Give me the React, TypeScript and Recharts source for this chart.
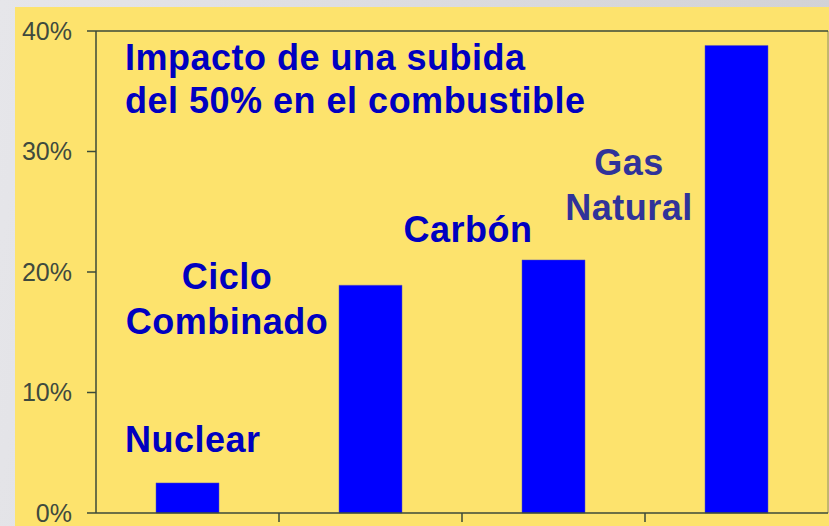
import { BarChart, Bar, XAxis, YAxis, ReferenceLine, CartesianGrid } from 'recharts';

const categories = ['Nuclear', 'Ciclo Combinado', 'Carbón', 'Gas Natural'];
const impactValues = [2.5, 18.9, 21.0, 38.8];
const yTicks = [0, 10, 20, 30, 40];

const data = categories.map((name, i) => ({ name, impact: impactValues[i] }));

const AXIS = '#3b4a38';
const BLUE_TEXT = '#0000c0';

// tick marks sit on the boundaries between categories, not under the bars
const BoundaryTick = (props: any) => {
  const { x, y, payload, index } = props;
  if (index >= categories.length - 1) return <g />;
  const bx = x + (payload?.offset ?? 0);
  return <line x1={bx} x2={bx} y1={y} y2={y + 9} stroke={AXIS} strokeWidth={1.5} />;
};

export default function App() {
  return (
    <div
      style={{
        position: 'fixed',
        top: 0,
        left: 0,
        width: 829,
        height: 526,
        overflow: 'hidden',
        background: 'linear-gradient(100deg, #e6e6ea 0%, #d0d0d4 100%)',
      }}
    >
      {/* yellow slide panel */}
      <div
        style={{
          position: 'absolute',
          left: 15,
          top: 7,
          width: 814,
          height: 519,
          background: '#fde36d',
        }}
      />
      <div style={{ position: 'absolute', left: 0, top: 0 }}>
        <BarChart
          width={829}
          height={526}
          data={data}
          margin={{ top: 31, right: 1, left: 0, bottom: 0 }}
          barCategoryGap={0}
        >
          <CartesianGrid
            horizontal={false}
            stroke="#8a8a70"
            verticalCoordinatesGenerator={({ offset }: any) => [offset.left + offset.width]}
          />
          <XAxis
            dataKey="name"
            height={13}
            interval={0}
            tickSize={0}
            tickMargin={0}
            tickLine={false}
            tick={<BoundaryTick />}
            axisLine={{ stroke: AXIS, strokeWidth: 1.5 }}
          />
          <YAxis
            domain={[0, 40]}
            ticks={yTicks}
            interval={0}
            width={96}
            tickSize={9}
            tickMargin={15}
            tickFormatter={(v: number) => `${v}%`}
            axisLine={{ stroke: AXIS, strokeWidth: 1.5 }}
            tickLine={{ stroke: AXIS, strokeWidth: 1.5 }}
            tick={{ fill: '#3f4a3e', fontSize: 25, fontFamily: 'Liberation Sans, Arial, sans-serif' }}
          />
          <ReferenceLine y={40} stroke={AXIS} strokeWidth={1.5} />
          <Bar
            dataKey="impact"
            fill="#0000ff"
            stroke="#5a5ab0"
            strokeWidth={0.5}
            barSize={63}
            isAnimationActive={false}
          />
        </BarChart>
      </div>
      <svg
        width={829}
        height={526}
        style={{ position: 'absolute', left: 0, top: 0, pointerEvents: 'none' }}
        fontFamily="Liberation Sans, Arial, sans-serif"
        fontWeight="bold"
        fontSize={36}
        letterSpacing={0.5}
      >
        <text x={125} y={70} fill={BLUE_TEXT}>Impacto de una subida</text>
        <text x={125} y={113} fill={BLUE_TEXT}>del 50% en el combustible</text>
        <text x={125} y={452} fill={BLUE_TEXT}>Nuclear</text>
        <text x={227} y={289} fill={BLUE_TEXT} textAnchor="middle">Ciclo</text>
        <text x={227} y={334} fill={BLUE_TEXT} textAnchor="middle">Combinado</text>
        <text x={468} y={242} fill={BLUE_TEXT} textAnchor="middle">Carbón</text>
        <text x={629} y={175} fill="#30339a" textAnchor="middle">Gas</text>
        <text x={629} y={220} fill="#30339a" textAnchor="middle">Natural</text>
      </svg>
    </div>
  );
}
